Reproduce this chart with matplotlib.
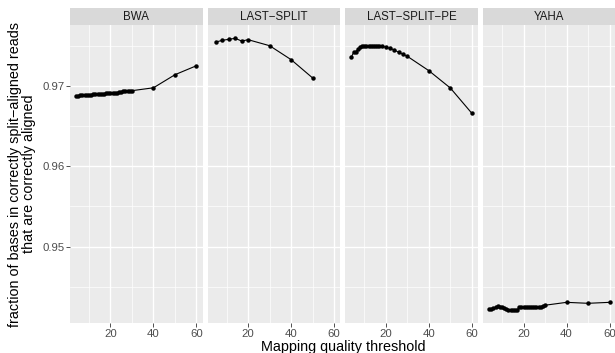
import matplotlib
matplotlib.use('Agg')
import matplotlib.pyplot as plt
from matplotlib.ticker import FixedLocator

plt.rcParams['font.family'] = ['Liberation Sans', 'DejaVu Sans']

panels = ['BWA', 'LAST\u2212SPLIT', 'LAST\u2212SPLIT\u2212PE', 'YAHA']

bwa_x = list(range(4, 31)) + [40, 50, 60]
bwa_y = [0.96880, 0.96881, 0.96882, 0.96884, 0.96886, 0.96889, 0.96892,
         0.96894, 0.96896, 0.96898, 0.96900, 0.96902, 0.96904, 0.96906,
         0.96908, 0.96910, 0.96912, 0.96914, 0.96916, 0.96918, 0.96922,
         0.96930, 0.96936, 0.96937, 0.96938, 0.96940, 0.96942,
         0.96978, 0.97141, 0.97253]

ls_x = [5, 8, 11, 14, 17, 20, 30, 40, 50]
ls_y = [0.97548, 0.97569, 0.97582, 0.97594, 0.97560, 0.97577, 0.97502,
        0.97328, 0.97100]

lspe_x = list(range(4, 19)) + [20, 22, 24, 26, 28, 30, 40, 50, 60]
lspe_y = [0.97362, 0.97418, 0.97427, 0.97457, 0.97480, 0.97496, 0.97495,
          0.97497, 0.97500, 0.97500, 0.97500, 0.97502, 0.97500, 0.97502,
          0.97500, 0.97482, 0.97469, 0.97448, 0.97420, 0.97395, 0.97370,
          0.97191, 0.96975, 0.96660]

yaha_x = list(range(4, 31)) + [40, 50, 60]
yaha_y = [0.94220, 0.94225, 0.94235, 0.94245, 0.94255, 0.94250, 0.94245,
          0.94235, 0.94225, 0.94215, 0.94210, 0.94205, 0.94205, 0.94210,
          0.94245, 0.94248, 0.94245, 0.94243, 0.94243, 0.94245, 0.94248,
          0.94243, 0.94245, 0.94243, 0.94248, 0.94265, 0.94270,
          0.94306, 0.94294, 0.94306]

series = [(bwa_x, bwa_y), (ls_x, ls_y), (lspe_x, lspe_y), (yaha_x, yaha_y)]

x_major = [20, 40, 60]
x_minor = [10, 30, 50]
y_major = [0.95, 0.96, 0.97]
y_minor = [0.945, 0.955, 0.965, 0.975]
y_labels = ['0.95', '0.96', '0.97']

W, H = 615, 353
fig = plt.figure(figsize=(W / 100, H / 100), dpi=100)
fig.patch.set_facecolor('white')

left0 = 70.0
pw = 132.5
gap = 5.2
top = 25.0
bottom = 323.3
strip_top = 8.3

xlim = (1.2, 62.8)
ylim = (0.94045, 0.97760)

for i, (name, (xs, ys)) in enumerate(zip(panels, series)):
    l = left0 + i * (pw + gap)
    ax = fig.add_axes([l / W, 1 - bottom / H, pw / W, (bottom - top) / H])
    ax.set_facecolor('#EBEBEB')
    for s in ax.spines.values():
        s.set_visible(False)
    ax.set_xlim(*xlim)
    ax.set_ylim(*ylim)
    ax.xaxis.set_major_locator(FixedLocator(x_major))
    ax.xaxis.set_minor_locator(FixedLocator(x_minor))
    ax.yaxis.set_major_locator(FixedLocator(y_major))
    ax.yaxis.set_minor_locator(FixedLocator(y_minor))
    ax.grid(which='major', color='white', linewidth=1.0)
    ax.grid(which='minor', color='white', linewidth=0.5)
    ax.set_axisbelow(True)
    ax.tick_params(which='minor', length=0)
    ax.tick_params(which='major', length=2.75, width=0.6, color='#333333',
                   labelsize=8.2, labelcolor='#4D4D4D', pad=1.0)
    ax.set_xticklabels([str(v) for v in x_major])
    if i == 0:
        ax.set_yticklabels(y_labels)
    else:
        ax.tick_params(axis='y', which='both', left=False, labelleft=False)
    ax.plot(xs, ys, color='black', linewidth=0.8, marker='o',
            markersize=3.2, markeredgewidth=0, zorder=3)

    sax = fig.add_axes([l / W, 1 - top / H, pw / W, (top - strip_top) / H])
    sax.set_facecolor('#D9D9D9')
    for s in sax.spines.values():
        s.set_visible(False)
    sax.set_xticks([])
    sax.set_yticks([])
    sax.text(0.5, 0.5, name, ha='center', va='center', fontsize=8.3,
             color='#1A1A1A', transform=sax.transAxes)

fig.text((left0 + (4 * pw + 3 * gap) / 2) / W, 1 - 351.0 / H,
         'Mapping quality threshold', ha='center', va='baseline',
         fontsize=10.4, color='black')
fig.text(22 / W, 1 - ((top + bottom) / 2) / H,
         'fraction of bases in correctly split\u2212aligned reads\nthat are correctly aligned',
         ha='center', va='center', rotation=90, fontsize=10.4,
         color='black', linespacing=1.0)

fig.savefig('out.png', dpi=100)
